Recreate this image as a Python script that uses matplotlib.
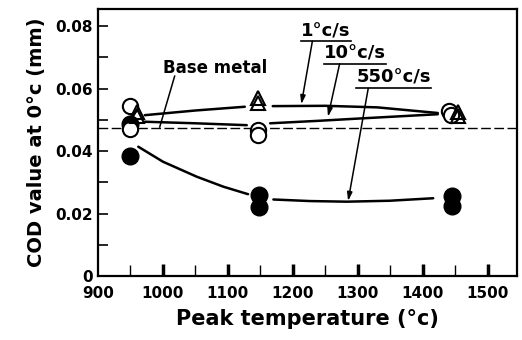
import matplotlib
matplotlib.use("Agg")
import matplotlib.pyplot as plt
from matplotlib.lines import Line2D

# ---- data ----
x_ticks = [900, 1000, 1100, 1200, 1300, 1400, 1500]
x_tick_labels = ["900", "1000", "1100", "1200", "1300", "1400", "1500"]
x_minor = [950, 1050, 1150, 1250, 1350, 1450]
y_ticks = [0, 0.02, 0.04, 0.06, 0.08]
y_tick_labels = ["0", "0.02", "0.04", "0.06", "0.08"]
y_minor = [0.01, 0.03, 0.05, 0.07]

# 1 °C/s (open triangles)
tri_x = [960, 960, 1147, 1147, 1454, 1454]
tri_y = [0.0525, 0.0512, 0.0569, 0.0553, 0.0526, 0.0512]
# 10 °C/s (open circles)
oc_x = [950, 950, 1147, 1147, 1441, 1443]
oc_y = [0.0545, 0.0472, 0.0466, 0.0453, 0.0527, 0.0517]
# 550 °C/s (filled circles)
fc_x = [950, 950, 1148, 1148, 1445, 1445]
fc_y = [0.0488, 0.0385, 0.0259, 0.0222, 0.0256, 0.0224]

base_metal = 0.0475

# hand-drawn trend curves (two segments each)
c1a_x = [972, 1050, 1126]
c1a_y = [0.0515, 0.0530, 0.0542]
c1b_x = [1169, 1250, 1330, 1423]
c1b_y = [0.0544, 0.0545, 0.0540, 0.0522]
c2a_x = [972, 1050, 1129]
c2a_y = [0.0494, 0.0489, 0.0483]
c2b_x = [1165, 1240, 1308, 1423]
c2b_y = [0.0489, 0.0497, 0.0505, 0.0518]
c3a_x = [962, 1000, 1052, 1093, 1131]
c3a_y = [0.0414, 0.0366, 0.0318, 0.0286, 0.0262]
c3b_x = [1170, 1226, 1283, 1349, 1416]
c3b_y = [0.0245, 0.0240, 0.0238, 0.0241, 0.0249]

plt.rcParams['font.family'] = ['DejaVu Sans']
plt.rcParams['font.weight'] = 'bold'

fig = plt.figure(figsize=(5.22, 3.40), dpi=100)
ax = fig.add_axes([98/522, 64/340, 419/522, 267/340])
ax.set_xlim(900, 1545)
ax.set_ylim(0, 0.0855)

lw_curve = 1.8
for xs, ys in [(c1a_x, c1a_y), (c1b_x, c1b_y), (c2a_x, c2a_y), (c2b_x, c2b_y),
               (c3a_x, c3a_y), (c3b_x, c3b_y)]:
    ax.plot(xs, ys, color='black', lw=lw_curve, solid_capstyle='round', zorder=2)

ax.axhline(base_metal, color='black', lw=1.0, dashes=(7, 2.5), zorder=1)

ax.plot(fc_x, fc_y, 'o', ms=12, color='black', zorder=3, ls='none')
ax.plot(oc_x, oc_y, 'o', ms=11, mfc='white', mec='black', mew=1.5, zorder=4, ls='none')
ax.plot(tri_x, tri_y, '^', ms=10, mfc='none', mec='black', mew=1.5, zorder=5, ls='none')

# ticks
ax.set_xticks(x_ticks)
ax.set_xticklabels(x_tick_labels)
ax.set_xticks(x_minor, minor=True)
ax.set_yticks(y_ticks)
ax.set_yticklabels(y_tick_labels)
ax.set_yticks(y_minor, minor=True)
ax.tick_params(axis='x', which='major', direction='in', length=9, width=2.5,
               labelsize=11, pad=7)
ax.tick_params(axis='x', which='minor', direction='in', length=8, width=1.0)
ax.tick_params(axis='y', which='both', direction='in', length=7, width=1.2,
               labelsize=11, pad=4)
for lab in ax.get_xticklabels() + ax.get_yticklabels():
    lab.set_fontweight('bold')
# hide the tick mark at 900 and y=0 (they sit on the spines)
ax.xaxis.get_major_ticks()[0].tick1line.set_visible(False)
ax.yaxis.get_major_ticks()[0].tick1line.set_visible(False)

for s in ax.spines.values():
    s.set_linewidth(1.6)

ax.set_xlabel("Peak temperature (°c)", fontsize=15, fontweight='bold', labelpad=6)
ax.set_ylabel("COD value at 0°c (mm)", fontsize=14, fontweight='bold', labelpad=6)

# annotations
labels = [
    ("1°c/s", 1251, 0.0784, (1230, 0.0752), (1213, 0.0550), True, 13),
    ("10°c/s", 1296, 0.0712, (1272, 0.0680), (1254, 0.0510), True, 13),
    ("550°c/s", 1355, 0.0635, (1316, 0.0601), (1285, 0.0240), True, 13),
    ("Base metal", 1080, 0.0666, (1018, 0.0640), (995, 0.0477), False, 12),
]
texts = []
for txt, tx, ty, start, end, arrow, fs in labels:
    t = ax.text(tx, ty, txt, ha='center', va='center', fontsize=fs, fontweight='bold')
    texts.append((t, arrow))
    if arrow:
        ax.annotate('', xy=end, xytext=start,
                    arrowprops=dict(arrowstyle='-|>,head_length=0.5,head_width=0.15',
                                    lw=1.1, color='black', shrinkA=0, shrinkB=0))
    else:
        ax.plot([start[0], end[0]], [start[1], end[1]], color='black', lw=1.1)

fig.canvas.draw()
renderer = fig.canvas.get_renderer()
for t, underline in texts:
    if not underline:
        continue
    bb = t.get_window_extent(renderer)
    y = bb.y0 - 1
    fig.add_artist(Line2D([bb.x0 / fig.bbox.width, bb.x1 / fig.bbox.width],
                          [y / fig.bbox.height, y / fig.bbox.height],
                          transform=fig.transFigure, color='black', lw=1.2))

fig.savefig("out.png", dpi=100, facecolor='white')
